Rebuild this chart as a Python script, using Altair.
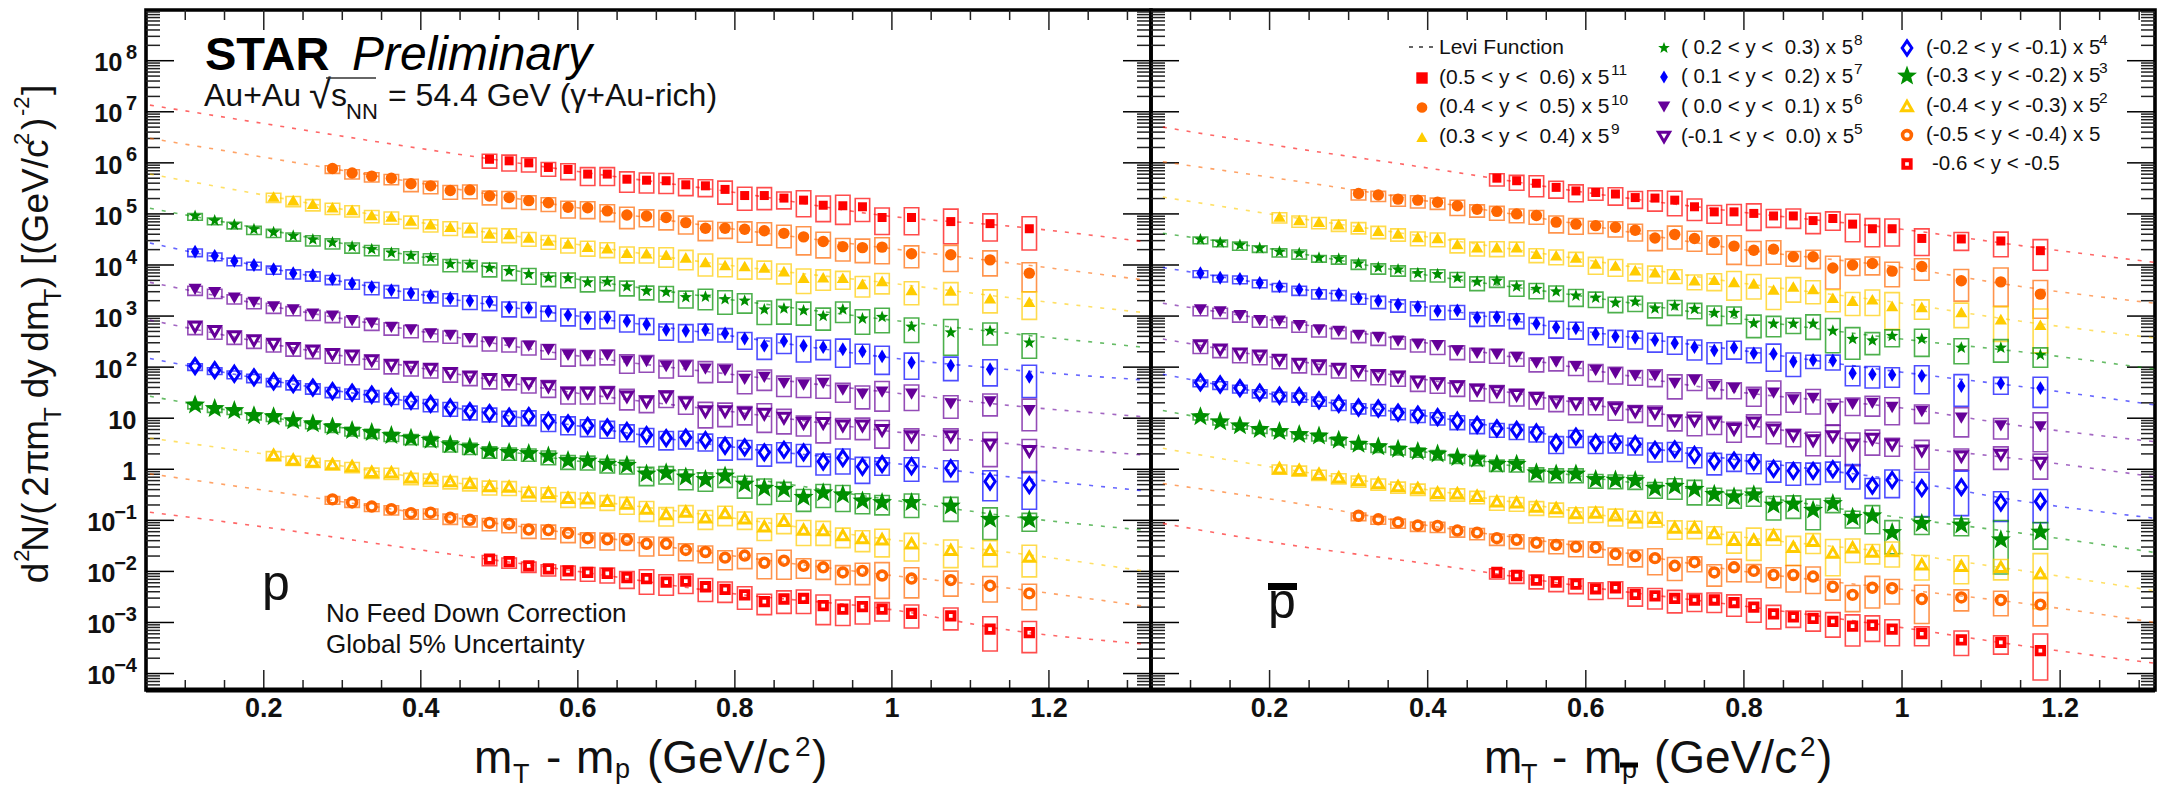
import math
import altair as alt
import pandas as pd

FONT = "Liberation Sans"
RED, ORANGE, YELLOW, GREEN, BLUE, PURPLE = "#ff0000", "#ff6600", "#ffcc00", "#008f00", "#0000ff", "#660099"

# mT-m0 bin centres
X_BINS = [0.1125, 0.1375, 0.1625, 0.1875, 0.2125, 0.2375, 0.2625, 0.2875, 0.3125, 0.3375,
          0.3625, 0.3875, 0.4125, 0.4375, 0.4625, 0.4875, 0.5125, 0.5375, 0.5625, 0.5875,
          0.6125, 0.6375, 0.6625, 0.6875, 0.7125, 0.7375, 0.7625, 0.7875, 0.8125, 0.8375,
          0.8625, 0.8875, 0.9125, 0.9375, 0.9625, 0.9875, 1.025, 1.075, 1.125, 1.175]

# ---- proton panel: log10(yield) and total width of systematic box in decades ----
Y_L_RED = [6.07,6.04,6.00,5.91,5.87,5.78,5.78,5.68,5.66,5.65,5.57,5.55,5.48,5.36,5.36,5.31,5.27,5.17,5.16,5.14,4.93,4.93,4.85,4.81,4.71]
B_L_RED = [.27,.31,.28,.27,.31,.35,.35,.40,.39,.39,.33,.33,.45,.45,.43,.33,.51,.50,.57,.45,.52,.53,.68,.53,.65]
Y_L_ORA = [5.89,5.80,5.74,5.70,5.59,5.55,5.46,5.47,5.35,5.32,5.26,5.22,5.13,5.12,5.06,4.98,4.96,4.93,4.83,4.72,4.72,4.70,4.67,4.62,4.55,4.46,4.36,4.34,4.35,4.22,4.20,4.10,3.84]
B_L_ORA = [.15,.18,.18,.20,.24,.24,.27,.27,.27,.33,.27,.27,.33,.33,.33,.42,.33,.38,.35,.38,.31,.40,.44,.44,.55,.50,.44,.46,.51,.43,.51,.49,.57]
Y_L_YEL = [5.34,5.27,5.20,5.13,5.08,4.98,4.95,4.87,4.80,4.75,4.72,4.62,4.61,4.54,4.48,4.42,4.36,4.33,4.24,4.23,4.20,4.15,4.06,4.00,3.98,3.95,3.88,3.75,3.76,3.75,3.63,3.69,3.51,3.50,3.35,3.28]
B_L_YEL = [.18,.20,.22,.22,.22,.24,.24,.24,.24,.27,.27,.27,.27,.27,.27,.29,.29,.29,.31,.30,.38,.38,.43,.36,.40,.35,.39,.48,.40,.35,.40,.40,.45,.43,.45,.54]
Y_L_GRN = [4.96,4.87,4.79,4.70,4.64,4.57,4.50,4.44,4.36,4.31,4.24,4.18,4.14,4.02,4.01,3.94,3.88,3.82,3.75,3.74,3.66,3.67,3.58,3.49,3.47,3.37,3.38,3.33,3.30,3.13,3.15,3.11,3.00,3.13,2.95,2.98,2.79,2.68,2.71,2.48]
B_L_GRN = [.13,.13,.13,.16,.16,.16,.20,.20,.20,.20,.22,.22,.22,.24,.22,.27,.29,.31,.27,.29,.29,.27,.29,.27,.30,.33,.40,.46,.38,.46,.48,.45,.43,.40,.48,.48,.48,.70,.43,.48]
Y_L_BLU = [4.26,4.18,4.08,4.00,3.92,3.84,3.80,3.73,3.64,3.57,3.51,3.45,3.40,3.35,3.30,3.28,3.17,3.16,3.09,3.02,2.96,2.97,2.90,2.84,2.73,2.71,2.73,2.66,2.56,2.42,2.51,2.42,2.39,2.35,2.31,2.21,2.09,2.03,1.96,1.81]
B_L_BLU = [.15,.15,.15,.15,.16,.18,.18,.18,.18,.24,.24,.22,.22,.24,.27,.27,.29,.29,.29,.33,.33,.33,.33,.31,.32,.34,.31,.26,.33,.42,.38,.50,.38,.55,.38,.55,.51,.46,.51,.63]
Y_L_PUR = [3.52,3.46,3.35,3.27,3.18,3.12,3.04,3.00,2.91,2.86,2.78,2.73,2.65,2.62,2.56,2.49,2.47,2.41,2.34,2.23,2.22,2.23,2.11,2.11,2.01,2.02,1.96,1.93,1.76,1.80,1.68,1.65,1.68,1.55,1.47,1.51,1.47,1.28,1.32,1.15]
B_L_PUR = [.18,.18,.18,.20,.20,.18,.20,.20,.20,.22,.24,.24,.24,.24,.24,.27,.27,.27,.29,.33,.29,.29,.36,.33,.35,.31,.41,.35,.44,.40,.40,.38,.45,.37,.45,.58,.50,.44,.43,.62]
Y_L_OPU = [2.79,2.70,2.60,2.52,2.45,2.37,2.32,2.25,2.22,2.13,2.04,2.00,1.96,1.88,1.81,1.76,1.74,1.68,1.62,1.49,1.49,1.50,1.42,1.32,1.42,1.30,1.13,1.13,1.10,1.08,1.00,.90,.90,.85,.85,.76,.64,.64,.48,.35]
B_L_OPU = [.24,.24,.24,.24,.24,.24,.24,.27,.27,.27,.27,.27,.27,.27,.27,.29,.29,.29,.33,.33,.33,.33,.40,.33,.33,.35,.50,.46,.36,.56,.48,.39,.60,.40,.42,.54,.42,.42,.67,.65]
Y_L_OBL = [2.02,1.94,1.87,1.80,1.72,1.67,1.60,1.53,1.50,1.46,1.41,1.34,1.28,1.21,1.14,1.10,1.03,1.04,.95,.90,.85,.82,.75,.67,.61,.62,.57,.46,.43,.33,.38,.33,.15,.22,.05,.10,.06,.02,-.24,-.31]
B_L_OBL = [.13,.13,.15,.16,.16,.18,.20,.20,.20,.22,.22,.24,.24,.27,.27,.27,.29,.29,.33,.35,.33,.33,.33,.36,.36,.35,.33,.44,.37,.42,.39,.43,.41,.49,.51,.34,.46,.41,.59,.74]
Y_L_BGR = [1.26,1.19,1.15,1.05,1.03,.95,.89,.83,.76,.72,.66,.61,.57,.48,.43,.36,.33,.31,.26,.17,.16,.10,.08,-.09,-.07,-.15,-.20,-.13,-.29,-.37,-.39,-.55,-.46,-.50,-.62,-.65,-.65,-.72,-.98,-.99]
B_L_BGR = [.12,.12,.12,.13,.15,.15,.15,.17,.17,.18,.18,.20,.20,.22,.22,.22,.24,.24,.27,.27,.27,.27,.27,.36,.34,.39,.36,.35,.43,.50,.37,.43,.45,.51,.39,.38,.46,.47,.62,.35]
Y_L_OYE = [.28,.19,.15,.10,.06,-.05,-.06,-.16,-.18,-.23,-.27,-.33,-.34,-.45,-.46,-.56,-.57,-.62,-.67,-.77,-.88,-.83,-.94,-.86,-.96,-1.12,-1.01,-1.18,-1.19,-1.29,-1.35,-1.37,-1.45,-1.58,-1.58,-1.71]
B_L_OYE = [.18,.18,.18,.18,.20,.20,.22,.22,.24,.24,.24,.27,.27,.27,.27,.29,.29,.29,.33,.39,.36,.33,.37,.38,.34,.43,.39,.49,.47,.38,.41,.54,.54,.54,.51,.62]
Y_L_OOR = [-.59,-.65,-.73,-.78,-.86,-.85,-.95,-.99,-1.05,-1.07,-1.18,-1.19,-1.25,-1.35,-1.37,-1.38,-1.46,-1.46,-1.58,-1.62,-1.73,-1.69,-1.83,-1.79,-1.89,-1.92,-2.02,-1.99,-2.08,-2.14,-2.17,-2.28,-2.43]
B_L_OOR = [.15,.15,.15,.18,.18,.20,.20,.22,.24,.27,.27,.27,.29,.29,.33,.33,.37,.35,.33,.33,.37,.40,.49,.57,.38,.37,.37,.42,.70,.59,.49,.50,.50]
Y_L_ORE = [-1.76,-1.81,-1.89,-1.95,-1.99,-2.02,-2.04,-2.12,-2.14,-2.21,-2.19,-2.30,-2.35,-2.46,-2.59,-2.54,-2.53,-2.67,-2.74,-2.69,-2.74,-2.82,-2.87,-3.13,-3.20]
B_L_ORE = [.20,.20,.20,.22,.27,.27,.29,.33,.48,.40,.38,.45,.40,.44,.40,.44,.46,.58,.50,.53,.36,.45,.43,.67,.61]

# ---- antiproton panel ----
Y_R_RED = [5.70,5.65,5.60,5.52,5.45,5.42,5.39,5.32,5.31,5.27,5.14,5.04,5.04,5.01,4.96,4.96,4.87,4.91,4.80,4.71,4.71,4.52,4.51,4.47,4.28]
B_R_RED = [.24,.29,.41,.33,.33,.24,.34,.33,.40,.48,.42,.35,.40,.52,.35,.38,.40,.36,.54,.55,.53,.52,.35,.48,.60]
Y_R_ORA = [5.40,5.37,5.29,5.27,5.23,5.16,5.09,5.05,5.00,4.97,4.84,4.80,4.77,4.74,4.68,4.53,4.60,4.52,4.44,4.37,4.29,4.31,4.16,4.16,3.94,4.00,4.03,3.88,3.97,3.69,3.67,3.43]
B_R_ORA = [.20,.20,.22,.24,.22,.30,.24,.27,.27,.27,.33,.31,.24,.30,.33,.39,.45,.39,.36,.56,.47,.46,.29,.36,.64,.32,.35,.48,.42,.62,.75,.74]
Y_R_YEL = [4.95,4.88,4.85,4.80,4.75,4.67,4.62,4.55,4.53,4.41,4.35,4.35,4.35,4.22,4.19,4.15,4.03,3.99,3.90,3.86,3.81,3.70,3.71,3.67,3.64,3.52,3.58,3.53,3.36,3.30,3.33,3.20,3.18,3.08,2.94,2.83]
B_R_YEL = [.20,.22,.22,.22,.22,.24,.24,.27,.27,.27,.27,.29,.27,.27,.29,.27,.33,.33,.33,.33,.27,.29,.33,.56,.48,.61,.48,.45,.43,.45,.50,.72,.38,.48,.68,.86]
Y_R_GRN = [4.50,4.44,4.39,4.33,4.26,4.23,4.14,4.12,4.03,3.95,3.91,3.84,3.82,3.75,3.67,3.69,3.58,3.53,3.48,3.40,3.36,3.26,3.28,3.15,3.20,3.14,3.06,3.06,2.86,2.85,2.85,2.85,2.71,2.55,2.52,2.61,2.55,2.38,2.38,2.24]
B_R_GRN = [.13,.13,.16,.13,.16,.18,.13,.16,.18,.20,.20,.24,.24,.29,.27,.20,.30,.30,.30,.33,.30,.30,.30,.29,.29,.30,.38,.33,.44,.40,.30,.48,.67,.62,.43,.33,.53,.49,.44,.38]
Y_R_BLU = [3.84,3.75,3.73,3.65,3.58,3.52,3.45,3.43,3.36,3.30,3.23,3.18,3.10,3.11,2.97,2.98,2.94,2.85,2.78,2.76,2.65,2.60,2.58,2.53,2.47,2.39,2.33,2.38,2.27,2.26,2.11,2.14,2.13,1.88,1.86,1.85,1.83,1.63,1.68,1.59]
B_R_BLU = [.13,.13,.15,.15,.16,.18,.18,.20,.20,.24,.24,.27,.27,.27,.27,.27,.29,.33,.33,.33,.33,.33,.35,.37,.34,.39,.41,.35,.29,.53,.46,.26,.29,.38,.42,.38,.55,.62,.33,.59]
Y_R_PUR = [3.12,3.08,3.01,2.91,2.90,2.81,2.73,2.70,2.62,2.58,2.51,2.45,2.42,2.32,2.27,2.25,2.19,2.08,2.10,2.01,1.93,1.88,1.83,1.83,1.68,1.74,1.62,1.58,1.47,1.49,1.36,1.39,1.19,1.27,1.29,1.21,1.13,1.00,.85,.83]
B_R_PUR = [.18,.20,.20,.20,.20,.20,.22,.22,.22,.24,.24,.24,.27,.27,.27,.27,.27,.27,.27,.27,.33,.33,.29,.33,.47,.31,.37,.31,.37,.66,.38,.48,.50,.34,.39,.53,.36,.57,.40,.76]
Y_R_OPU = [2.42,2.34,2.26,2.22,2.14,2.06,2.03,1.96,1.92,1.84,1.81,1.71,1.68,1.62,1.55,1.52,1.45,1.39,1.32,1.28,1.28,1.19,1.13,1.10,.95,.95,.91,.78,.91,.77,.66,.56,.64,.48,.59,.48,.36,.25,.28,.12]
B_R_OPU = [.24,.24,.27,.27,.27,.27,.27,.27,.29,.29,.29,.29,.30,.30,.33,.33,.33,.33,.30,.33,.33,.36,.33,.39,.31,.46,.36,.39,.43,.42,.34,.46,.60,.64,.49,.35,.57,.41,.44,.49]
Y_R_OBL = [1.70,1.66,1.59,1.50,1.44,1.43,1.35,1.28,1.21,1.19,1.11,1.07,1.02,.95,.87,.80,.77,.72,.52,.64,.52,.53,.49,.38,.39,.28,.16,.17,.15,.01,-.03,-.03,.00,-.08,-.32,-.21,-.37,-.35,-.65,-.63]
B_R_OBL = [.13,.15,.15,.16,.18,.18,.18,.20,.20,.22,.22,.24,.24,.27,.27,.27,.29,.29,.33,.33,.33,.33,.33,.37,.37,.39,.42,.33,.37,.41,.44,.42,.39,.48,.39,.54,.87,.87,.58,.65]
Y_R_BGR = [1.03,.93,.85,.78,.74,.68,.65,.57,.49,.44,.39,.35,.30,.23,.20,.10,.10,-.07,-.09,-.09,-.20,-.21,-.22,-.37,-.33,-.39,-.49,-.54,-.50,-.70,-.68,-.80,-.67,-.94,-.91,-1.24,-1.06,-1.09,-1.38,-1.23]
B_R_BGR = [.10,.10,.10,.12,.13,.13,.15,.15,.15,.17,.17,.18,.18,.18,.20,.22,.24,.27,.27,.27,.27,.27,.27,.31,.40,.48,.33,.35,.35,.46,.44,.60,.28,.33,.55,.65,.34,.33,1.05,.52]
Y_R_OYE = [.02,-.01,-.09,-.16,-.21,-.27,-.33,-.37,-.46,-.47,-.52,-.63,-.65,-.73,-.76,-.86,-.85,-.90,-.94,-.95,-1.14,-1.14,-1.25,-1.38,-1.38,-1.29,-1.52,-1.40,-1.63,-1.53,-1.61,-1.60,-1.86,-1.89,-1.91,-2.04]
B_R_OYE = [.18,.20,.20,.20,.22,.22,.22,.22,.24,.24,.24,.27,.27,.27,.27,.30,.30,.33,.33,.28,.36,.34,.35,.41,.63,.31,.57,.39,.71,.46,.38,.49,.48,.55,.40,1.08]
Y_R_OOR = [-.91,-.98,-1.04,-1.10,-1.11,-1.20,-1.24,-1.35,-1.38,-1.44,-1.48,-1.52,-1.53,-1.66,-1.70,-1.74,-1.89,-1.82,-2.02,-1.92,-1.99,-2.07,-2.07,-2.10,-2.30,-2.46,-2.32,-2.33,-2.54,-2.51,-2.56,-2.65]
B_R_OOR = [.15,.15,.18,.18,.20,.20,.22,.22,.27,.27,.27,.30,.30,.33,.33,.51,.45,.29,.42,.44,.34,.39,.52,.52,.41,.51,.62,.48,.75,.41,.48,.65]
Y_R_ORE = [-2.02,-2.08,-2.17,-2.21,-2.25,-2.34,-2.32,-2.45,-2.48,-2.53,-2.56,-2.56,-2.61,-2.70,-2.83,-2.89,-2.92,-2.98,-3.07,-3.05,-3.13,-3.22,-3.34,-3.39,-3.55]
B_R_ORE = [.20,.24,.27,.29,.29,.33,.33,.36,.40,.44,.35,.38,.42,.46,.46,.32,.39,.48,.61,.50,.51,.37,.48,.36,.90]

# ---- Levi curves: log10 values at the anchor abscissae ----
LEVI_X_L = [.055, .2, .4, .6, .8, 1.0, 1.15, 1.32]
LEVI_X_R = [.065, .2, .4, .6, .8, 1.0, 1.15, 1.32]
LEVI_L = [
    [7.13,6.77,6.28,5.83,5.42,4.95,4.76,4.46],
    [6.48,6.11,5.60,5.12,4.70,4.32,4.04,3.71],
    [5.78,5.37,4.83,4.40,3.98,3.64,3.36,3.07],
    [5.11,4.70,4.16,3.72,3.31,2.92,2.66,2.39],
    [4.43,3.96,3.42,3.00,2.60,2.18,1.95,1.75],
    [3.66,3.22,2.70,2.22,1.85,1.50,1.25,1.03],
    [2.92,2.48,1.98,1.49,1.12,.74,.50,.28],
    [2.17,1.76,1.30,.85,.43,.12,-.15,-.42],
    [1.43,1.04,.60,.16,-.15,-.60,-.92,-1.19],
    [.61,.30,-.17,-.58,-.96,-1.38,-1.63,-1.99],
    [-.09,-.41,-.86,-1.27,-1.70,-2.08,-2.33,-2.68],
    [-.84,-1.13,-1.58,-2.00,-2.44,-2.75,-3.15,-3.42],
]
LEVI_R = [
    [6.70,6.36,5.90,5.42,5.03,4.70,4.38,4.05],
    [6.02,5.72,5.25,4.78,4.30,3.95,3.58,3.25],
    [5.33,5.00,4.55,4.10,3.64,3.25,2.90,2.57],
    [4.62,4.32,3.80,3.38,2.94,2.55,2.30,1.96],
    [3.95,3.62,3.17,2.70,2.32,1.90,1.62,1.26],
    [3.25,2.93,2.47,1.96,1.50,1.20,.85,.54],
    [2.55,2.20,1.75,1.28,.87,.45,.20,-.15],
    [1.86,1.48,1.04,.58,.17,-.22,-.62,-.96],
    [1.15,.78,.33,-.15,-.50,-.95,-1.25,-1.63],
    [.41,.05,-.40,-.85,-1.33,-1.65,-1.98,-2.38],
    [-.28,-.58,-1.10,-1.52,-2.00,-2.35,-2.62,-3.00],
    [-1.06,-1.42,-1.85,-2.30,-2.68,-3.10,-3.45,-3.80],
]

DATA_L = [(Y_L_RED,B_L_RED),(Y_L_ORA,B_L_ORA),(Y_L_YEL,B_L_YEL),(Y_L_GRN,B_L_GRN),(Y_L_BLU,B_L_BLU),(Y_L_PUR,B_L_PUR),
          (Y_L_OPU,B_L_OPU),(Y_L_OBL,B_L_OBL),(Y_L_BGR,B_L_BGR),(Y_L_OYE,B_L_OYE),(Y_L_OOR,B_L_OOR),(Y_L_ORE,B_L_ORE)]
DATA_R = [(Y_R_RED,B_R_RED),(Y_R_ORA,B_R_ORA),(Y_R_YEL,B_R_YEL),(Y_R_GRN,B_R_GRN),(Y_R_BLU,B_R_BLU),(Y_R_PUR,B_R_PUR),
          (Y_R_OPU,B_R_OPU),(Y_R_OBL,B_R_OBL),(Y_R_BGR,B_R_BGR),(Y_R_OYE,B_R_OYE),(Y_R_OOR,B_R_OOR),(Y_R_ORE,B_R_ORE)]


def star_path():
    pts = []
    for i in range(10):
        r = 1.0 if i % 2 == 0 else 0.42
        a = math.radians(-90 + 36 * i)
        pts.append(f"{r*math.cos(a):.3f},{r*math.sin(a):.3f}")
    return "M" + "L".join(pts) + "Z"

STAR = star_path()
DIA_THIN = "M0,-1L0.6,0L0,1L-0.6,0Z"
DIA_OPEN = "M0,-1L0.68,0L0,1L-0.68,0Z"

# colour, shape, filled, size, strokeWidth, legend size
STYLE = [
    (RED, "square", True, 81, 0, 130),
    (ORANGE, "circle", True, 130, 0, 115),
    (YELLOW, "triangle-up", True, 150, 0, 130),
    (GREEN, STAR, True, 170, 0, 150),
    (BLUE, DIA_THIN, True, 190, 0, 170),
    (PURPLE, "triangle-down", True, 170, 0, 160),
    (PURPLE, "triangle-down", False, 125, 3, 125),
    (BLUE, DIA_OPEN, False, 225, 3, 200),
    (GREEN, STAR, True, 440, 0, 440),
    (YELLOW, "triangle-up", False, 115, 3, 115),
    (ORANGE, "circle", False, 78, 3.6, 78),
    (RED, "square", False, 56, 3.8, 56),
]

NB = "\u00a0"
LEGEND = [
    (f"(0.5 < y < {NB}0.6) x 5", "11", 0, 78), (f"(0.4 < y < {NB}0.5) x 5", "10", 0, 107.5), (f"(0.3 < y < {NB}0.4) x 5", "9", 0, 137),
    (f"( 0.2 < y < {NB}0.3) x 5", "8", 1, 48), (f"( 0.1 < y < {NB}0.2) x 5", "7", 1, 77), (f"( 0.0 < y < {NB}0.1) x 5", "6", 1, 107),
    (f"(-0.1 < y < {NB}0.0) x 5", "5", 1, 137), ("(-0.2 < y < -0.1) x 5", "4", 2, 48), ("(-0.3 < y < -0.2) x 5", "3", 2, 76),
    ("(-0.4 < y < -0.3) x 5", "2", 2, 106), ("(-0.5 < y < -0.4) x 5", "", 2, 135), ("-0.6 < y < -0.5", "", 2, 164),
]
LEG_SYM_X = [1422, 1664, 1907]
LEG_TXT_X = [1439, 1681, 1926]
LEG_SUP_X = [1611, 1854, 2099]
LEG_SIZE = [21, 20.5, 20.5]

Y_LABELS = [("10","8"),("10","7"),("10","6"),("10","5"),("10","4"),("10","3"),("10","2"),("10",""),("1",""),
            ("10","\u22121"),("10","\u22122"),("10","\u22123"),("10","\u22124")]
Y_LABEL_EXP = [8,7,6,5,4,3,2,1,0,-1,-2,-3,-4]
X_MAJOR = [0.2,0.4,0.6,0.8,1.0,1.2]
X_LABELS = ["0.2","0.4","0.6","0.8","1","1.2"]
X_MINOR = [0.1,0.15,0.25,0.3,0.35,0.45,0.5,0.55,0.65,0.7,0.75,0.85,0.9,0.95,1.05,1.1,1.15,1.25,1.3]

TOP, H = 10, 680
X_LO = 0.05
X_HI_L, X_HI_R = 1.33, 1.32
W_L, W_R = 1005, 1004
LOG_TOP, LOG_BOT = 8.993, -4.322
PX_DEC = H / (LOG_TOP - LOG_BOT)
yscale = alt.Scale(type="log", domain=[10**LOG_BOT, 10**LOG_TOP], nice=False)
BOX_HALF = 0.0092
UP_FRAC = 0.36
BASE = 773  # baseline of the x-axis titles


def txt(text, X, Y, ox, size, **kw):
    kw.setdefault("align", "left")
    kw.setdefault("baseline", "alphabetic")
    kw.setdefault("color", "#111111")
    return alt.Chart(pd.DataFrame({"t": [text]})).mark_text(font=FONT, fontSize=size, **kw).encode(
        text="t:N", x=alt.value(X - ox), y=alt.value(Y - TOP))


def pxrule(X1, X2, Y, ox, width, color="black", **kw):
    return alt.Chart(pd.DataFrame({"a": [0]})).mark_rule(color=color, strokeWidth=width, **kw).encode(
        x=alt.value(X1 - ox), x2=alt.value(X2 - ox), y=alt.value(Y - TOP))


def marker(style, size=None):
    c, shape, filled, s, sw, _ = style
    kw = dict(shape=shape, size=size or s, opacity=1, filled=filled, color=c)
    if not filled:
        kw["strokeWidth"] = sw
    return kw


def frame_layers(W, x_hi, xscale):
    layers = []
    pxu = W / (x_hi - X_LO)
    maj = [10.0**e for e in range(-4, 9)]
    mino = [m * 10.0**e for e in range(-5, 9) for m in range(2, 10)
            if LOG_BOT < math.log10(m * 10.0**e) < LOG_TOP]
    for vals, ln, col in ((mino, 14, "#222222"), (maj, 28, "#000000")):
        d = pd.DataFrame({"v": vals, "a0": X_LO, "a1": X_LO + ln / pxu, "b0": x_hi - ln / pxu, "b1": x_hi})
        yenc = alt.Y("v:Q", scale=yscale, axis=None)
        layers.append(alt.Chart(d).mark_rule(color=col, strokeWidth=1.5).encode(
            y=yenc, x=alt.X("a0:Q", scale=xscale, axis=None), x2="a1:Q"))
        layers.append(alt.Chart(d).mark_rule(color=col, strokeWidth=1.5).encode(
            y=yenc, x=alt.X("b0:Q", scale=xscale, axis=None), x2="b1:Q"))
    for vals, ln in ((X_MINOR, 10), (X_MAJOR, 20)):
        d = pd.DataFrame({"v": vals, "a0": 10**LOG_BOT, "a1": 10**(LOG_BOT + ln / PX_DEC),
                          "b0": 10**(LOG_TOP - ln / PX_DEC), "b1": 10**LOG_TOP})
        xenc = alt.X("v:Q", scale=xscale, axis=None)
        layers.append(alt.Chart(d).mark_rule(color="#222222", strokeWidth=1.5).encode(
            x=xenc, y=alt.Y("a0:Q", scale=yscale, axis=None), y2="a1:Q"))
        layers.append(alt.Chart(d).mark_rule(color="#222222", strokeWidth=1.5).encode(
            x=xenc, y=alt.Y("b0:Q", scale=yscale, axis=None), y2="b1:Q"))
    layers.append(alt.Chart(pd.DataFrame({"v": X_MAJOR, "t": X_LABELS})).mark_text(
        font=FONT, fontSize=27, fontWeight="bold", color="#111111", baseline="alphabetic").encode(
        text="t:N", x=alt.X("v:Q", scale=xscale, axis=None), y=alt.value(717 - TOP)))
    layers.append(pxrule(0, W, TOP + H, 0, 5))
    return layers


def data_layers(dataset, levi_x, levi, xscale):
    lines, boxes, marks = [], [], []
    for i, ((ys, bs), st) in enumerate(zip(dataset, STYLE)):
        xs = X_BINS[-len(ys):]
        c = st[0]
        ld = pd.DataFrame({"x": levi_x, "y": [10**v for v in levi[i]]})
        lines.append(alt.Chart(ld).mark_line(color=c, strokeWidth=1.6, strokeDash=[4, 8], opacity=0.6, interpolate="monotone").encode(
            x=alt.X("x:Q", scale=xscale, axis=None), y=alt.Y("y:Q", scale=yscale, axis=None)))
        d = pd.DataFrame({
            "x": xs, "y": [10**v for v in ys],
            "x0": [v - BOX_HALF for v in xs], "x1": [v + BOX_HALF for v in xs],
            "lo": [10**(v - b * (1 - UP_FRAC)) for v, b in zip(ys, bs)],
            "hi": [10**(v + b * UP_FRAC) for v, b in zip(ys, bs)],
        })
        boxes.append(alt.Chart(d).mark_rect(fillOpacity=0, stroke=c, strokeWidth=1.6, strokeOpacity=0.7).encode(
            x=alt.X("x0:Q", scale=xscale, axis=None), x2="x1:Q",
            y=alt.Y("lo:Q", scale=yscale, axis=None), y2="hi:Q"))
        marks.append(alt.Chart(d).mark_point(**marker(st)).encode(
            x=alt.X("x:Q", scale=xscale, axis=None), y=alt.Y("y:Q", scale=yscale, axis=None)))
    return lines + boxes + marks


def left_panel():
    ox = 146
    xsc = alt.Scale(domain=[X_LO, X_HI_L], nice=False, zero=False)
    L = frame_layers(W_L, X_HI_L, xsc) + data_layers(DATA_L, LEVI_X_L, LEVI_L, xsc)
    # y tick labels
    for (base, ex), e in zip(Y_LABELS, Y_LABEL_EXP):
        v = 10.0**e
        d = pd.DataFrame({"v": [v], "b": [base], "e": [ex]})
        right = 136.5 if ex == "" else (122.5 if len(ex) == 1 else 115.5)
        L.append(alt.Chart(d).mark_text(font=FONT, fontSize=25.5, fontWeight="bold", align="right", baseline="alphabetic", dy=10.7, color="#111111").encode(
            text="b:N", x=alt.value(right - ox), y=alt.Y("v:Q", scale=yscale, axis=None)))
        if ex:
            L.append(alt.Chart(d).mark_text(font=FONT, fontSize=20, fontWeight="bold", align="right", baseline="alphabetic", dy=-1.4, color="#111111").encode(
                text="e:N", x=alt.value(137 - ox), y=alt.Y("v:Q", scale=yscale, axis=None)))
    # y title: rotated pieces, reading upward
    for t, Z, bx, sz in [("d", 1510, 48, 37), ("2", 1445, 29, 22), ("N/(", 1415, 48, 37), ("2", 1250, 48, 37),
                         ("\u03c0", 1185, 48, 37), ("m", 1112, 48, 37), ("T", 1025, 61, 24), ("dy", 955, 48, 37),
                         ("dm", 815, 48, 37), ("T", 670, 61, 24), (")", 625, 48, 37), ("[(GeV/c", 555, 48, 37),
                         ("2", 195, 29, 22), (")", 150, 48, 37), ("-2", 108, 29, 22), ("]", 45, 48, 37)]:
        L.append(txt(t, bx, 80 + Z / 3, ox, sz, angle=270))
    # annotations
    L += [
        txt("STAR", 205, 70, ox, 47, fontWeight="bold", color="#000000"),
        txt("Preliminary", 352, 70, ox, 48, fontStyle="italic", color="#000000"),
        txt("Au+Au", 204, 106, ox, 32),
        txt("\u221a", 309, 108, ox, 40),
        pxrule(326, 376, 78, ox, 1.5, "#333333"),
        txt("s", 331, 106, ox, 32),
        txt("NN", 346, 119, ox, 22),
        txt("= 54.4 GeV (\u03b3+Au-rich)", 388, 106, ox, 32),
        txt("p", 262, 600, ox, 50),
        txt("No Feed Down Correction", 326, 622, ox, 26),
        txt("Global 5% Uncertainty", 326, 653, ox, 26),
        # x title
        txt("m", 474, BASE, ox, 46), txt("T", 513, BASE + 10, ox, 27), txt("-", 546, BASE, ox, 46),
        txt("m", 576, BASE, ox, 46), txt("p", 615, BASE + 5, ox, 27),
        txt("(GeV/c", 647, BASE, ox, 46), txt("2", 795, BASE - 17, ox, 28), txt(")", 812, BASE, ox, 46),
    ]
    return alt.layer(*L).properties(width=W_L, height=H)


def right_panel():
    ox = 1151
    xsc = alt.Scale(domain=[X_LO, X_HI_R], nice=False, zero=False)
    L = frame_layers(W_R, X_HI_R, xsc) + data_layers(DATA_R, LEVI_X_R, LEVI_R, xsc)
    L += [
        txt("p", 1268, 618, ox, 50),
        pxrule(1268, 1297, 586.5, ox, 7),
        txt("m", 1484, BASE, ox, 46), txt("T", 1521, BASE + 10, ox, 27), txt("-", 1552, BASE, ox, 46),
        txt("m", 1584, BASE, ox, 46), txt("p", 1622, BASE + 5, ox, 27),
        pxrule(1620, 1638, BASE - 8, ox, 5),
        txt("(GeV/c", 1654, BASE, ox, 46), txt("2", 1800, BASE - 17, ox, 28), txt(")", 1817, BASE, ox, 46),
    ]
    # hand-placed legend
    L.append(pxrule(1409, 1435, 47, ox, 1.6, "#333333", strokeDash=[4, 6]))
    L.append(txt("Levi Function", LEG_TXT_X[0], 54, ox, 21))
    for st, (label, sup, col, y) in zip(STYLE, LEGEND):
        dx = 6 if label.startswith("-0.6") else 0
        L.append(alt.Chart(pd.DataFrame({"a": [0]})).mark_point(**marker(st, st[5])).encode(
            x=alt.value(LEG_SYM_X[col] - ox), y=alt.value(y - TOP)))
        L.append(txt(label, LEG_TXT_X[col] + dx, y + 5.5, ox, LEG_SIZE[col]))
        if sup:
            L.append(txt(sup, LEG_SUP_X[col], y - 3, ox, 15.5))
    return alt.layer(*L).properties(width=W_R, height=H)


# Fixed placement: no automatic sizing, the padding alone sets the page box
chart = alt.hconcat(left_panel(), right_panel(), spacing=0, bounds="flush").properties(
    autosize=alt.AutoSizeParams(type="none"),
    padding={"left": 138, "top": 2, "right": 2011, "bottom": 774},
    background="white",
).configure_view(stroke="black", strokeWidth=3.6)

chart.save("out.html", embed_options={"renderer": "svg", "actions": False})
